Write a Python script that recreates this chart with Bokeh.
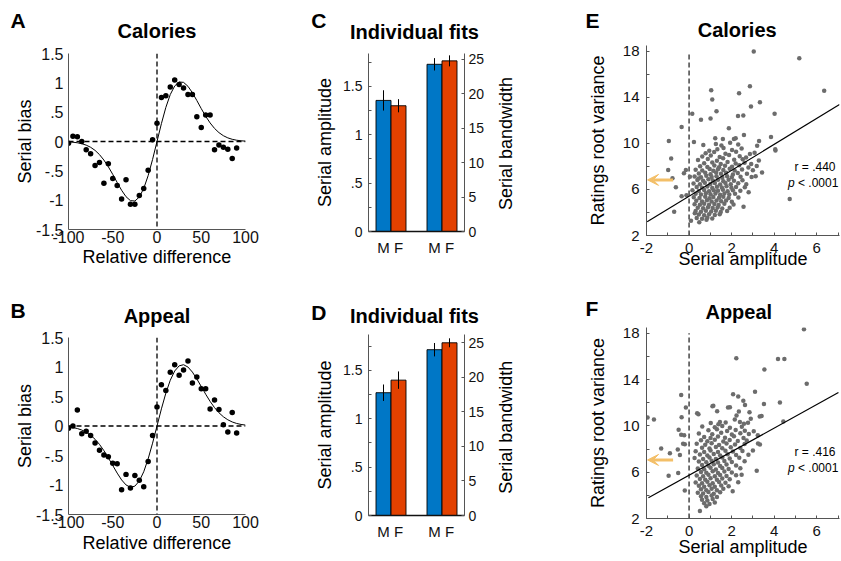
import math
from bokeh.plotting import figure
from bokeh.models import (Range1d, LinearAxis, FixedTicker, CustomJSTickFormatter,
                          Label, Span, Arrow, VeeHead)
from bokeh.layouts import row, column
from bokeh.embed import file_html
from bokeh.resources import INLINE

FONT = "Liberation Sans"
BLUE = "#0077C6"
RED = "#E24100"
GRAY = "#6C6C6C"
AXC = "#555555"
ORANGE = "#F3BF68"

# ---------------- data ----------------
rel_diff = list(range(-100, 95, 5))
calories_bias = [-0.03, 0.09, 0.08, 0.0, -0.14, -0.21, -0.41, -0.36, -0.71, -0.38,
                 -0.63, -0.75, -0.98, -0.65, -1.07, -1.07, -0.92, -0.80, -0.49, 0.03,
                 0.31, 0.75, 0.78, 0.93, 1.05, 0.97, 0.91, 0.80, 0.80, 0.42,
                 0.24, 0.45, 0.45, -0.14, -0.06, -0.10, -0.13, -0.29, -0.11]
appeal_bias = [-0.04, 0.0, 0.27, -0.13, -0.09, -0.16, -0.29, -0.41, -0.49, -0.52,
               -0.63, -0.64, -1.08, -0.82, -1.05, -0.84, -0.92, -1.03, -0.60, -0.16,
               0.32, 0.70, 0.60, 0.91, 1.04, 0.86, 0.95, 1.10, 0.73, 0.83,
               0.63, 0.63, 0.29, 0.44, 0.28, 0.02, -0.10, 0.23, -0.12]
fit_x = list(range(-100, 105, 5))
calories_fit = [-0.0065, -0.0121, -0.0217, -0.0373, -0.0618, -0.0986, -0.1513, -0.2231,
                -0.3165, -0.4303, -0.5606, -0.6990, -0.8314, -0.9409, -1.0079, -1.0143,
                -0.9468, -0.8007, -0.5816, -0.3060, 0.0,
                0.3060, 0.5816, 0.8007, 0.9468, 1.0143, 1.0079, 0.9409, 0.8314, 0.6990,
                0.5606, 0.4303, 0.3165, 0.2231, 0.1513, 0.0986, 0.0618, 0.0373, 0.0217,
                0.0121, 0.0065]
appeal_fit = [-0.0155, -0.0262, -0.0431, -0.0685, -0.1053, -0.1565, -0.2248, -0.3117,
              -0.4172, -0.5386, -0.6690, -0.7982, -0.9137, -0.9991, -1.0388, -1.0194,
              -0.9324, -0.7758, -0.5571, -0.2913, 0.0,
              0.2913, 0.5571, 0.7758, 0.9324, 1.0194, 1.0388, 0.9991, 0.9137, 0.7982,
              0.6690, 0.5386, 0.4172, 0.3117, 0.2248, 0.1565, 0.1053, 0.0685, 0.0431,
              0.0262, 0.0155]

sexes = ["M", "F"]
C_amp = [1.355, 1.30]
C_amp_err = [0.105, 0.068]
C_bw = [24.3, 24.8]
C_bw_err = [0.9, 0.8]
D_amp = [1.27, 1.40]
D_amp_err = [0.085, 0.09]
D_bw = [24.0, 25.0]
D_bw_err = [0.97, 0.65]

E_points = [
    (3.04, 17.97), (5.18, 17.4), (6.35, 14.56), (1.04, 14.62), (1.09, 13.82), (2.35, 14.36),
    (2.86, 14.96), (3.33, 13.57), (2.91, 13.2), (1.29, 12.8), (0.15, 12.57), (0.56, 12.06),
    (1.01, 12.15), (2.30, 12.37), (2.55, 12.43), (4.02, 12.57), (-0.35, 11.43), (1.87, 11.32),
    (-0.95, 10.21), (0.23, 10.13), (1.23, 10.44), (1.59, 10.38), (2.11, 10.38), (2.19, 10.44),
    (2.58, 10.72), (3.85, 10.55), (3.29, 10.21), (3.2, 9.8), (4.05, 9.5), (4.06, 9.39),
    (0.67, 9.87), (2.86, 9.08), (-0.84, 8.68), (-0.98, 7.68), (-0.78, 6.97), (-0.62, 6.18),
    (-0.70, 4.07), (-0.15, 7.68), (-0.24, 7.4), (-0.12, 5.5), (-0.35, 5.41), (0.04, 7.11),
    (3.43, 7.48), (3.13, 7.15), (2.94, 7.09), (2.8, 5.75), (2.56, 4.5), (4.73, 5.18),
    (0.09, 3.28), (0.48, 3.14), (0.82, 3.36), (0.27, 3.93),
    (1.26, 9.95), (1.52, 9.82), (1.93, 10.05), (2.31, 9.9),
    (1.33, 9.48), (1.62, 9.6), (2.02, 9.42), (2.47, 9.55), (0.95, 9.35),
    (0.78, 9.15), (1.18, 9.25), (1.71, 9.1), (2.21, 9.28), (3.08, 9.18),
    (0.62, 8.85), (1.02, 8.95), (1.44, 8.82), (1.88, 9.0), (2.38, 8.88), (2.68, 8.78),
    (0.42, 8.55), (0.88, 8.65), (1.31, 8.5), (1.6, 8.7), (2.12, 8.58), (2.52, 8.62), (3.28, 8.52),
    (0.71, 8.28), (1.09, 8.35), (1.49, 8.22), (1.81, 8.38), (2.19, 8.25), (2.61, 8.32), (2.92, 8.2),
    (0.52, 8.02), (0.86, 7.95), (1.19, 8.08), (1.41, 7.92), (1.69, 8.05), (2.02, 7.98),
    (2.36, 8.1), (2.79, 7.9), (3.18, 8.04),
    (0.31, 7.72), (0.62, 7.65), (0.97, 7.78), (1.14, 7.62), (1.36, 7.75), (1.61, 7.68),
    (1.91, 7.8), (2.14, 7.64), (2.49, 7.74), (3.0, 7.66),
    (0.46, 7.38), (0.76, 7.45), (1.01, 7.32), (1.27, 7.48), (1.5, 7.36), (1.74, 7.44),
    (2.06, 7.3), (2.29, 7.42), (2.72, 7.36),
    (0.26, 7.12), (0.56, 7.05), (0.81, 7.18), (1.06, 7.08), (1.29, 7.15), (1.56, 7.02),
    (1.79, 7.14), (2.01, 7.06), (2.42, 7.1), (0.45, 6.95),
    (0.39, 6.82), (0.66, 6.75), (0.91, 6.88), (1.12, 6.78), (1.36, 6.85), (1.61, 6.72),
    (1.86, 6.84), (2.11, 6.76), (2.51, 6.8),
    (0.21, 6.52), (0.51, 6.45), (0.74, 6.58), (1.0, 6.48), (1.21, 6.55), (1.46, 6.42),
    (1.71, 6.56), (1.96, 6.46), (2.31, 6.54), (2.69, 6.44),
    (0.36, 6.22), (0.61, 6.15), (0.86, 6.26), (1.09, 6.12), (1.31, 6.24), (1.54, 6.16),
    (1.76, 6.28), (1.99, 6.14), (2.21, 6.22), (2.62, 6.18),
    (0.16, 5.92), (0.46, 5.86), (0.71, 5.96), (0.94, 5.84), (1.16, 5.94), (1.36, 5.88),
    (1.59, 5.98), (1.81, 5.85), (2.06, 5.93), (2.41, 5.88),
    (0.31, 5.62), (0.56, 5.55), (0.79, 5.66), (1.01, 5.58), (1.24, 5.64), (1.46, 5.54),
    (1.66, 5.65), (1.89, 5.56), (2.16, 5.62),
    (0.22, 5.32), (0.49, 5.26), (0.76, 5.36), (0.96, 5.24), (1.14, 5.34), (1.41, 5.28),
    (1.61, 5.36), (1.86, 5.25), (2.32, 5.3),
    (0.34, 5.02), (0.61, 4.96), (0.84, 5.06), (1.06, 4.95), (1.29, 5.04), (1.51, 4.98),
    (1.74, 5.05), (2.01, 4.94),
    (0.26, 4.72), (0.51, 4.66), (0.71, 4.76), (0.94, 4.68), (1.19, 4.74), (1.39, 4.65),
    (1.66, 4.75), (2.09, 4.7),
    (0.41, 4.42), (0.66, 4.36), (0.89, 4.46), (1.11, 4.38), (1.34, 4.44), (1.56, 4.35), (1.91, 4.42),
    (0.31, 4.12), (0.56, 4.06), (0.79, 4.16), (1.04, 4.08), (1.26, 4.14), (1.49, 4.05), (1.79, 4.12),
    (0.46, 3.82), (0.71, 3.76), (0.94, 3.85), (1.21, 3.78), (1.44, 3.84),
    (0.36, 3.52), (0.61, 3.46), (0.86, 3.55), (1.09, 3.48),
]
F_points = [
    (5.40, 18.34), (5.53, 13.65), (2.22, 15.84), (3.54, 14.87), (4.18, 15.78), (4.48, 15.78),
    (4.27, 12.03), (4.43, 10.38), (3.10, 12.94), (3.52, 11.89), (2.55, 12.17), (3.32, 10.81),
    (3.41, 10.86), (-0.37, 12.66), (-0.15, 11.58), (-0.35, 10.75), (1.14, 11.75), (0.38, 11.1),
    (0.44, 11.0), (-0.49, 9.67), (-0.23, 9.19), (-0.2, 8.42), (-1.95, 10.72), (-1.65, 10.55),
    (-1.31, 8.05), (-0.9, 7.63), (-0.96, 5.69), (-0.51, 5.92), (-0.43, 7.48), (-0.53, 7.97),
    (-0.2, 4.42), (0.51, 2.65), (3.18, 6.12), (2.05, 4.36), (2.47, 5.78), (3.33, 8.39),
    (1.1, 11.69), (1.32, 11.27), (1.83, 11.58), (1.45, 10.33), (-0.37, 9.23), (-0.28, 8.45),
    (2.07, 12.74), (2.31, 12.54), (2.63, 11.8), (1.92, 11.6), (2.34, 11.24), (2.84, 11.18),
    (2.23, 10.9), (2.15, 10.56), (2.39, 10.33), (2.9, 10.62), (2.77, 10.28), (3.04, 9.54),
    (3.23, 9.2), (3.24, 8.47), (3.0, 7.87),
    (1.02, 10.25), (1.38, 10.15), (1.72, 10.3), (2.58, 10.18),
    (0.62, 9.95), (1.21, 9.88), (1.56, 10.0), (1.92, 9.85), (2.48, 9.92),
    (0.91, 9.62), (1.31, 9.7), (1.79, 9.55), (2.19, 9.65), (2.62, 9.58),
    (0.46, 9.35), (1.09, 9.28), (1.51, 9.4), (2.01, 9.25), (2.41, 9.36), (2.81, 9.3),
    (0.71, 9.05), (1.01, 8.95), (1.36, 9.08), (1.69, 8.98), (2.11, 9.1), (2.56, 8.96),
    (0.56, 8.75), (0.86, 8.68), (1.21, 8.8), (1.61, 8.66), (1.91, 8.78), (2.29, 8.7), (2.71, 8.74),
    (0.36, 8.45), (0.76, 8.38), (1.06, 8.5), (1.41, 8.36), (1.76, 8.48), (2.16, 8.4), (2.61, 8.44),
    (0.61, 8.12), (0.96, 8.05), (1.26, 8.18), (1.56, 8.06), (1.96, 8.15), (2.41, 8.08),
    (0.31, 7.82), (0.71, 7.75), (1.01, 7.88), (1.36, 7.74), (1.71, 7.85), (2.06, 7.78), (2.51, 7.84),
    (0.51, 7.52), (0.86, 7.45), (1.16, 7.58), (1.46, 7.44), (1.81, 7.56), (2.21, 7.48), (2.79, 7.5),
    (0.26, 7.22), (0.66, 7.15), (0.96, 7.28), (1.26, 7.14), (1.56, 7.26), (1.91, 7.18), (2.36, 7.24),
    (0.46, 6.92), (0.81, 6.85), (1.06, 6.98), (1.36, 6.84), (1.66, 6.96), (2.01, 6.88), (2.61, 6.94),
    (0.61, 6.62), (0.91, 6.55), (1.16, 6.68), (1.46, 6.54), (1.76, 6.66), (2.21, 6.58),
    (0.41, 6.32), (0.71, 6.25), (1.01, 6.38), (1.26, 6.24), (1.56, 6.36), (1.86, 6.28), (2.41, 6.34),
    (0.56, 6.02), (0.81, 5.95), (1.11, 6.08), (1.36, 5.94), (1.66, 6.06), (2.01, 5.98),
    (0.36, 5.72), (0.66, 5.65), (0.91, 5.78), (1.21, 5.64), (1.46, 5.76), (1.76, 5.68), (2.21, 5.74),
    (0.51, 5.42), (0.76, 5.35), (1.01, 5.48), (1.31, 5.34), (1.56, 5.46), (1.91, 5.38),
    (0.31, 5.12), (0.61, 5.05), (0.86, 5.18), (1.11, 5.04), (1.41, 5.16), (1.71, 5.08), (2.31, 5.14),
    (0.46, 4.82), (0.71, 4.75), (0.96, 4.88), (1.21, 4.74), (1.51, 4.86), (1.86, 4.78),
    (0.56, 4.52), (0.81, 4.45), (1.06, 4.58), (1.31, 4.44), (1.61, 4.56),
    (0.41, 4.22), (0.66, 4.15), (0.91, 4.28), (1.16, 4.14), (1.46, 4.26),
    (0.56, 3.92), (0.81, 3.85), (1.06, 3.98), (1.31, 3.86),
    (0.61, 3.62), (0.86, 3.55), (1.11, 3.68),
    (0.71, 3.32), (0.96, 3.25), (1.21, 3.38),
    (0.81, 3.05),
]
E_fit_x = [-1.97, 7.07]
E_fit_y = [3.19, 13.37]
F_fit_x = [-1.91, 7.02]
F_fit_y = [3.79, 12.88]
E_stats = ("r = .440", "p", "< .0001")
F_stats = ("r = .416", "p", "< .0001")
E_arrow_y = 6.83
F_arrow_y = 7.06

STRIP = ("var s = String(tick); if (s.indexOf('0.') == 0) { s = s.substring(1); } "
         "else if (s.indexOf('-0.') == 0) { s = '-' + s.substring(2); } return s;")
BASE_SHIFT = 0.38  # measured offset of the rendered baseline, in em


def no_align(p):
    if "frame_align" in p.properties():
        p.frame_align = False


def base_fig(w, h, l, r, t, b, xr, yr):
    p = figure(width=w, height=h, x_range=xr, y_range=yr, output_backend="svg",
               toolbar_location=None, title=None, min_border_left=l, min_border_right=r,
               min_border_top=t, min_border_bottom=b)
    p.outline_line_color = None
    p.grid.visible = False
    p.background_fill_color = "white"
    p.border_fill_color = "white"
    no_align(p)
    return p


def text_fig(w, h, items):
    p = figure(width=w, height=h, x_range=Range1d(0, 1), y_range=Range1d(0, 1),
               output_backend="svg", toolbar_location=None, title=None,
               x_axis_type=None, y_axis_type=None, min_border=0)
    p.outline_line_color = None
    p.background_fill_color = "white"
    p.border_fill_color = "white"
    no_align(p)
    for it in items:
        lab(p, *it)
    return row(p)


def style_axis(ax, size, ticks, minor=None, tick_in=0, standoff=4, line_color=AXC):
    ax.ticker = FixedTicker(ticks=ticks, minor_ticks=minor or [])
    ax.formatter = CustomJSTickFormatter(code=STRIP)
    ax.major_label_text_font = FONT
    ax.major_label_text_font_size = f"{size}px"
    ax.major_label_text_color = "#111111"
    ax.major_label_standoff = standoff
    ax.axis_line_color = line_color
    ax.axis_line_width = 1
    ax.major_tick_out = 0
    ax.minor_tick_out = 0
    ax.major_tick_in = tick_in
    ax.minor_tick_in = tick_in
    ax.major_tick_line_color = line_color if tick_in else None
    ax.minor_tick_line_color = line_color if (tick_in and minor) else None


def axis_title(ax, text, standoff):
    ax.axis_label = text
    ax.axis_label_text_font = FONT
    ax.axis_label_text_font_size = "18px"
    ax.axis_label_text_font_style = "normal"
    ax.axis_label_text_color = "black"
    ax.axis_label_standoff = standoff


def lab(p, text, x, y, size, style="normal", align="left", angle=0.0):
    # x, y give the wanted baseline position relative to the frame's lower left corner
    shift = BASE_SHIFT * size
    if angle:
        x = x - shift
    else:
        y = y + shift
    p.add_layout(Label(x=x, y=y, x_units="screen", y_units="screen", text=text,
                       text_font=FONT, text_font_size=f"{size}px", text_font_style=style,
                       text_align=align, text_baseline="alphabetic", angle=angle,
                       text_color="black"))


def bias_panel(h, top, fh, ys, fit, xlab_standoff):
    p = base_fig(298, h, 68, 53, top, h - top - fh, Range1d(-100, 100), Range1d(-1.5, 1.5))
    style_axis(p.xaxis[0], 16, [-100, -50, 0, 50, 100], standoff=1)
    style_axis(p.yaxis[0], 16, [-1.5, -1, -0.5, 0, 0.5, 1, 1.5], standoff=5)
    axis_title(p.xaxis[0], "Relative difference", xlab_standoff)
    axis_title(p.yaxis[0], "Serial bias", -2)
    for dim in ("width", "height"):
        p.add_layout(Span(location=0, dimension=dim, line_color="black",
                          line_dash="5 3", line_width=1.3))
    p.line(fit_x, fit, line_color="black", line_width=1)
    p.scatter(rel_diff, ys, size=5.5, fill_color="black", line_color=None)
    return p


def bar_panel(h, top, fh, amp, amp_err, bw, bw_err, ytop, bwtop, bwlab_y):
    p = base_fig(192, h, 70, 26, top, h - top - fh, Range1d(0, 6.4), Range1d(0, ytop))
    p.extra_y_ranges = {"bw": Range1d(0, bwtop)}
    xa = p.xaxis[0]
    xa.ticker = FixedTicker(ticks=[1, 2, 4.4, 5.4])
    xa.formatter = CustomJSTickFormatter(args=dict(labels=sexes),
                                         code="return labels[index % labels.length];")
    xa.major_label_text_font = FONT
    xa.major_label_text_font_size = "15px"
    xa.major_label_text_color = "#111111"
    xa.major_label_standoff = 7
    xa.major_tick_in = 0
    xa.major_tick_out = 0
    xa.minor_tick_in = 0
    xa.minor_tick_out = 0
    xa.major_tick_line_color = None
    xa.minor_tick_line_color = None
    xa.axis_line_color = "#111111"
    xa.axis_line_width = 1.3
    style_axis(p.yaxis[0], 14, [0, 0.5, 1, 1.5], minor=[0.25, 0.75, 1.25, 1.75], tick_in=3, standoff=6)
    axis_title(p.yaxis[0], "Serial amplitude", 5)
    ra = LinearAxis(y_range_name="bw")
    style_axis(ra, 14, [0, 5, 10, 15, 20, 25], tick_in=3, standoff=4)
    p.add_layout(ra, "right")
    p.vbar(x=[1, 2], top=amp, width=1, fill_color=[BLUE, RED], line_color="black", line_width=0.9)
    p.vbar(x=[4.4, 5.4], top=bw, width=1, fill_color=[BLUE, RED], line_color="black",
           line_width=0.9, y_range_name="bw")
    p.segment(x0=[1, 2], x1=[1, 2], y0=[a - e for a, e in zip(amp, amp_err)],
              y1=[a + e for a, e in zip(amp, amp_err)], line_color="black", line_width=1)
    p.segment(x0=[4.4, 5.4], x1=[4.4, 5.4], y0=[a - e for a, e in zip(bw, bw_err)],
              y1=[a + e for a, e in zip(bw, bw_err)], line_color="black", line_width=1,
              y_range_name="bw")
    strip = text_fig(80, h, [("Serial bandwidth", 22.7, bwlab_y, 18, "normal", "center", math.pi / 2)])
    return row(p, strip)


def scatter_panel(h, top, fh, pts, fx, fy, stats, arrow_y, dash_top, r_y, p_y, xlab_standoff):
    p = base_fig(270, h, 76, 1, top, h - top - fh, Range1d(-2, 7.07), Range1d(2, 18.5))
    style_axis(p.xaxis[0], 15, [-2, 0, 2, 4, 6], minor=[-1, 1, 3, 5, 7], tick_in=3, standoff=7)
    style_axis(p.yaxis[0], 15, [2, 6, 10, 14, 18], minor=[4, 8, 12, 16], tick_in=3, standoff=7)
    axis_title(p.xaxis[0], "Serial amplitude", xlab_standoff)
    axis_title(p.yaxis[0], "Ratings root variance", 12)
    p.segment(x0=[0], y0=[2], x1=[0], y1=[dash_top], line_color="black", line_dash="5 3", line_width=1.1)
    p.scatter([q[0] for q in pts], [q[1] for q in pts], size=4.5, fill_color=GRAY, line_color=None)
    p.line(fx, fy, line_color="black", line_width=1.2)
    p.add_layout(Arrow(end=VeeHead(size=11, fill_color=ORANGE, line_color=ORANGE),
                       x_start=-0.75, y_start=arrow_y, x_end=-1.95, y_end=arrow_y,
                       line_color=ORANGE, line_width=3))
    lab(p, stats[0], 189, r_y, 12, "normal", "right")
    lab(p, stats[1], 141.5, p_y, 12, "italic", "left")
    lab(p, stats[2], 151.5, p_y, 12, "normal", "left")
    return p


hA = text_fig(298, 46, [("A", 10, 17.7, 21, "bold"), ("Calories", 156.5, 7.7, 20, "bold", "center")])
pA = bias_panel(226, 7, 176, calories_bias, calories_fit, 1)
hB = text_fig(298, 58, [("B", 10, 11.7, 21, "bold"), ("Appeal", 156.5, 6.7, 20, "bold", "center")])
pB = bias_panel(230, 7, 177, appeal_bias, appeal_fit, 2)

hC = text_fig(272, 46, [("C", 12.7, 17.7, 21, "bold"), ("Individual fits", 116, 6.7, 20, "bold", "center")])
rC = bar_panel(226, 7, 178, C_amp, C_amp_err, C_bw, C_bw_err, 1.84, 25.87, 129)
hD = text_fig(272, 58, [("D", 12.7, 10, 21, "bold"), ("Individual fits", 116, 6.7, 20, "bold", "center")])
rD = bar_panel(230, 4, 181, D_amp, D_amp_err, D_bw, D_bw_err, 1.872, 26.2, 133.3)

hE = text_fig(270, 42, [("E", 15, 13.7, 21, "bold"), ("Calories", 166.7, 4.5, 20, "bold", "center")])
pE = scatter_panel(230, 3, 190, E_points, E_fit_x, E_fit_y, E_stats, E_arrow_y, 17.9, 64.3, 48.3, -7)
hF = text_fig(270, 52, [("F", 15, 8, 21, "bold"), ("Appeal", 168.3, 4.5, 20, "bold", "center")])
pF = scatter_panel(236, 3, 191, F_points, F_fit_x, F_fit_y, F_stats, F_arrow_y, 18.0, 62, 46, -2)

layout = row(column(hA, pA, hB, pB), column(hC, rC, hD, rD), column(hE, pE, hF, pF))
open("out.html", "w").write(file_html(layout, INLINE))
